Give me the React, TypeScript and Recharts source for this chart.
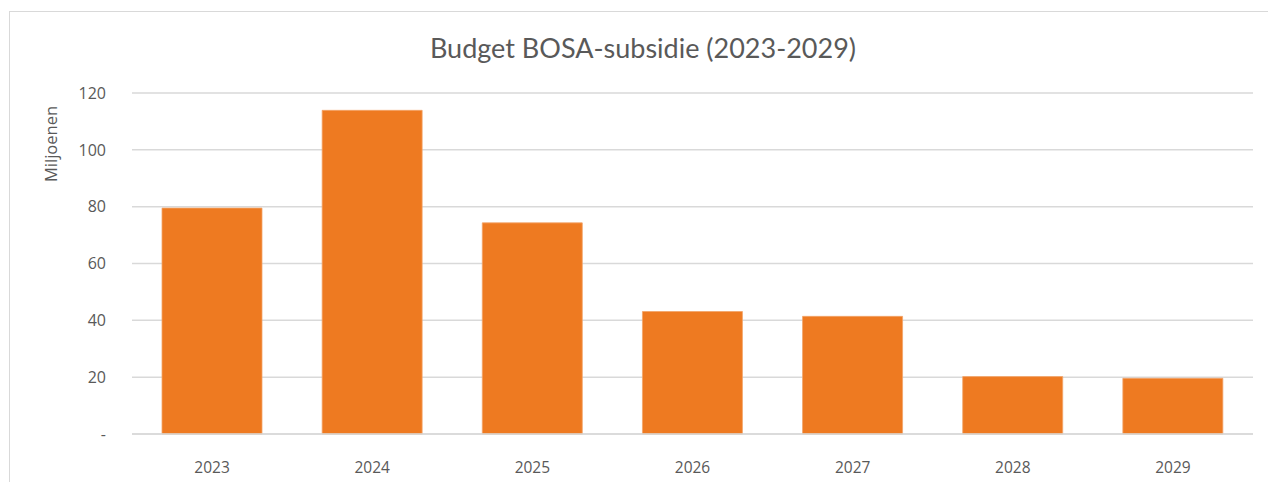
import React from 'react';
import { BarChart, Bar, XAxis, YAxis, CartesianGrid, Label } from 'recharts';

const categories = ['2023', '2024', '2025', '2026', '2027', '2028', '2029'];
const budget = [79.5, 113.9, 74.3, 43.1, 41.4, 20.2, 19.6];
const yTicks = [0, 20, 40, 60, 80, 100, 120];

const data = categories.map((year, i) => ({ year, budget: budget[i] }));

const FONT = 'Lato, "Open Sans", sans-serif';
const AXFONT = '"Open Sans", Lato, sans-serif';
const TEXT = '#595959';

const AxisTitle = (props: any) => {
  const vb = props.viewBox || { x: 0, y: 0 };
  const cx = vb.x + 40;
  const cy = vb.y + 51;
  return (
    <text
      x={cx}
      y={cy}
      transform={`rotate(-90 ${cx} ${cy})`}
      textAnchor="middle"
      dominantBaseline="central"
      fill={TEXT}
      fontSize={16.5}
      fontFamily={AXFONT}
    >
      Miljoenen
    </text>
  );
};

export default function App() {
  return (
    <div
      style={{
        position: 'absolute',
        left: 9,
        top: 11,
        width: 1290,
        height: 500,
        border: '1px solid #d9d9d9',
        background: '#fff',
        fontFamily: FONT,
      }}
    >
      <div
        style={{
          position: 'absolute',
          left: 0,
          top: 20,
          width: 1266,
          textAlign: 'center',
          fontSize: 27,
          color: TEXT,
          fontFamily: FONT,
          lineHeight: '32px',
        }}
      >
        Budget BOSA-subsidie (2023-2029)
      </div>
      <BarChart
        width={1258}
        height={471}
        data={data}
        margin={{ top: 81, right: 15, bottom: 0, left: 0 }}
      >
        <CartesianGrid vertical={false} stroke="#d9d9d9" strokeWidth={1.5} />
        <XAxis
          dataKey="year"
          height={49}
          axisLine={{ stroke: '#d9d9d9', strokeWidth: 1.5 }}
          tickLine={false}
          tick={{ fill: TEXT, fontSize: 15.5, fontFamily: AXFONT }}
          tickMargin={22}
        />
        <YAxis
          width={122}
          domain={[0, 120]}
          ticks={yTicks}
          axisLine={false}
          tickLine={false}
          tickMargin={20}
          tick={{ fill: TEXT, fontSize: 16, fontFamily: AXFONT }}
          tickFormatter={(v: number) => (v === 0 ? '-' : String(v))}
        >
          <Label content={AxisTitle} />
        </YAxis>
        <Bar
          dataKey="budget"
          fill="#ee7a21"
          stroke="#f3a56a"
          strokeWidth={0.8}
          barSize={100}
          isAnimationActive={false}
        />
      </BarChart>
    </div>
  );
}
